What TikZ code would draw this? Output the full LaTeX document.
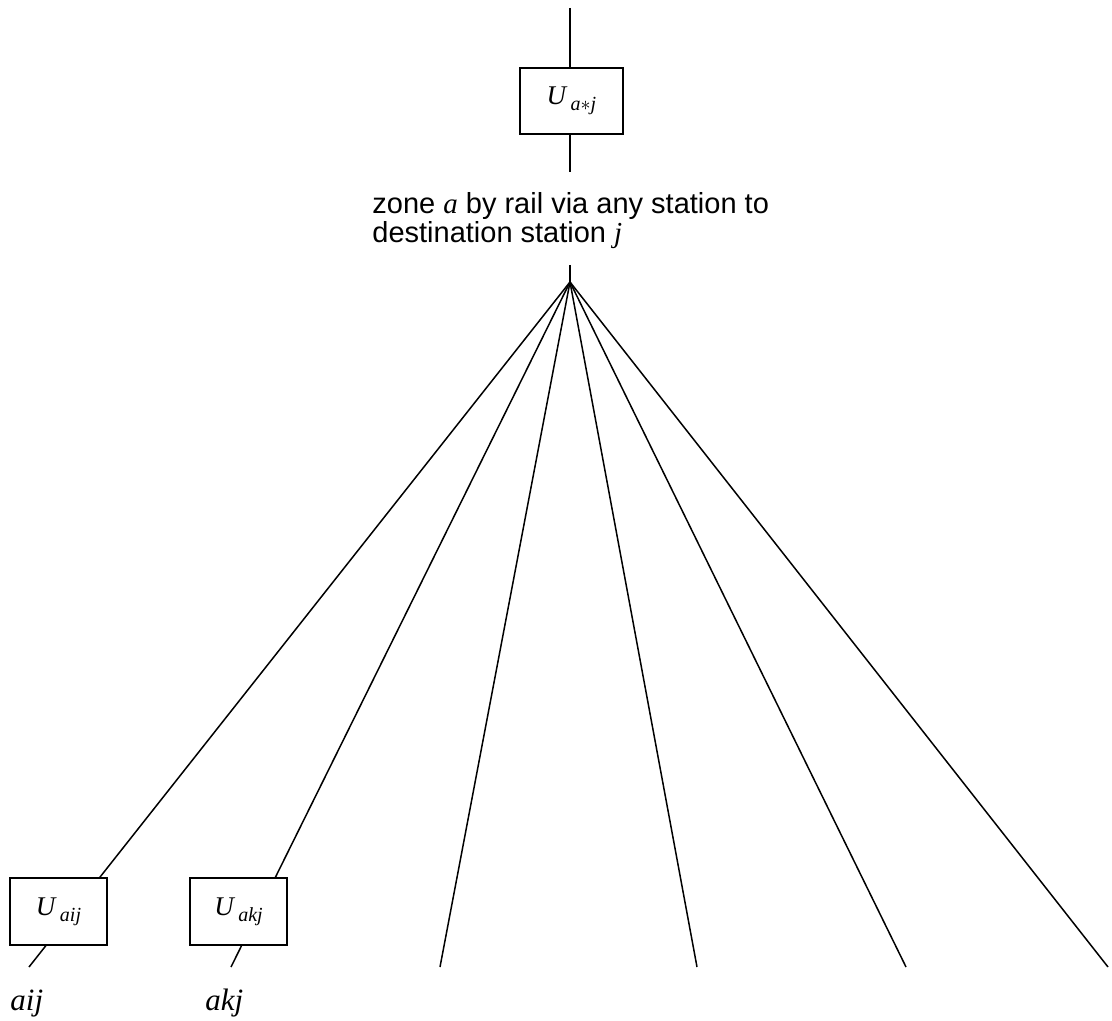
\documentclass[tikz,border=0pt]{standalone}
\usepackage{fontspec}
\setmainfont{Liberation Sans}
\newfontfamily\serif{Liberation Serif}
\usetikzlibrary{positioning}
\tikzstyle{util} = [rectangle, draw, fill=white, line width=0.75pt,
  minimum width=48.5pt, minimum height=33.5pt, inner sep=0pt,
  font=\serif\itshape\fontsize{13.5}{13.5}\selectfont]
\tikzstyle{link} = [line width=0.75pt]
\tikzstyle{alt} = [anchor=base west, inner sep=0pt,
  font=\serif\itshape\fontsize{15.5}{15.5}\selectfont]
\newcommand{\usub}[1]{\,\raisebox{-0.5ex}{\fontsize{10}{10}\selectfont #1}}

\begin{document}
\begin{tikzpicture}[x=0.5pt, y=-0.5pt]
    \useasboundingbox (0,0) rectangle (1112,1021);
    % stem and fan points
    \coordinate (top) at (570,8);
    \coordinate (mid) at (570,172);
    \coordinate (stem) at (570,265);
    \coordinate (hub) at (570,282);
    \foreach \n/\x in {1/29, 2/231, 3/440, 4/697, 5/906, 6/1108}
      \coordinate (e\n) at (\x,967);
    \draw[link] (top) -- (mid);
    \draw[link] (stem) -- (hub);
    \foreach \n in {1,...,6}
      \draw[link] (hub) -- (e\n);
    % utility boxes
    \node[util, minimum width=51.5pt, minimum height=33pt] (ustar) at (571.5,101) {U\usub{a$\ast$j}};
    \node[util] (uaij) at (58.5,911.5) {U\usub{aij}};
    \node[util] (uakj) at (238.5,911.5) {U\usub{akj}};
    \node[anchor=north west, inner sep=0pt, align=left,
      font=\fontsize{14.5}{13.5}\selectfont] (zone) at (372,192)
      {zone {\serif\itshape a} by rail via any station to\\destination station {\serif\itshape j}};
    \node[alt] (laij) at (10,1010) {aij};
    \node[alt] (lakj) at (205,1010) {akj};
\end{tikzpicture}
\end{document}
